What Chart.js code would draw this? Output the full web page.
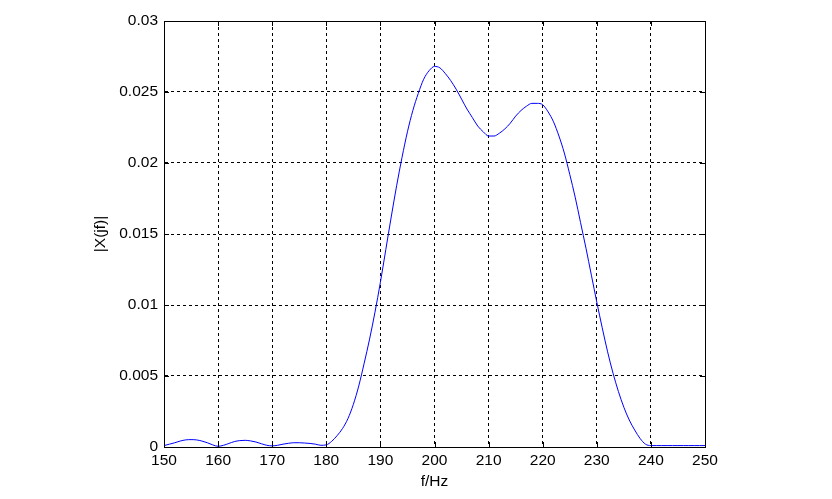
<!DOCTYPE html>
<html>
<head>
<meta charset="utf-8">
<script src="https://cdn.jsdelivr.net/npm/chart.js@4.4.1/dist/chart.umd.min.js"></script>
<style>
html,body{margin:0;padding:0;background:#fff;}
#wrap{width:832px;height:499px;}
</style>
</head>
<body>
<div id="wrap"><canvas id="c" width="832" height="499"></canvas></div>
<script>
const freqs = [150,151,152,153,154,155,156,157,158,159,160,161,162,163,164,165,166,167,168,169,170,171,172,173,174,175,176,177,178,179,180,181,182,183,184,185,186,187,188,189,190,191,192,193,194,195,196,197,198,199,200,201,202,203,204,205,206,207,208,209,210,211,212,213,214,215,216,217,218,219,220,221,222,223,224,225,226,227,228,229,230,231,232,233,234,235,236,237,238,239,240,241,242,243,244,245,246,247,248,249,250];
const magnitudes = [0.0001,0.0002,0.0003,0.00042,0.0005,0.00052,0.0005,0.00042,0.0003,0.00015,0.00005,0.00012,0.00025,0.00038,0.00045,0.00047,0.00043,0.00035,0.00023,0.00012,0.00008,0.00012,0.0002,0.00026,0.0003,0.0003,0.00028,0.00025,0.0002,0.00012,0.00015,0.0004,0.0008,0.0013,0.0020,0.0030,0.0043,0.0059,0.0076,0.0095,0.0116,0.0139,0.0162,0.0184,0.0204,0.0222,0.0237,0.0249,0.0259,0.0265,0.0268,0.0267,0.0263,0.0258,0.0252,0.0245,0.0238,0.0232,0.0226,0.0222,0.0219,0.0219,0.0221,0.0224,0.0228,0.0233,0.0237,0.0240,0.0242,0.0242,0.0241,0.0236,0.0229,0.0219,0.0207,0.0192,0.0176,0.0158,0.0140,0.0121,0.0102,0.0084,0.0067,0.0052,0.0039,0.0028,0.0019,0.0012,0.0006,0.0002,0.0001,0.0001,0.0001,0.0001,0.0001,0.0001,0.0001,0.0001,0.0001,0.0001,0.0001];
const xTicks = [150,160,170,180,190,200,210,220,230,240,250];
const yTicks = [0,0.005,0.01,0.015,0.02,0.025,0.03];
const xLabel = 'f/Hz';
const yLabel = '|X(jf)|';

const points = freqs.map((f,i)=>({x:f,y:magnitudes[i]}));
const FONT = {family:'"Liberation Sans", Arial, sans-serif', size:15.5};

const framePlugin = {
  id:'frame',
  afterDraw(chart){
    const {ctx, chartArea:a, scales:{x,y}} = chart;
    ctx.save();
    ctx.strokeStyle='#000';
    ctx.lineWidth=1;
    ctx.setLineDash([]);
    ctx.beginPath();
    xTicks.forEach(v=>{
      const px=Math.round(x.getPixelForValue(v))+0.5;
      ctx.moveTo(px,a.bottom); ctx.lineTo(px,a.bottom-5);
      ctx.moveTo(px,a.top); ctx.lineTo(px,a.top+5);
    });
    yTicks.forEach(v=>{
      const py=Math.round(y.getPixelForValue(v))+0.5;
      ctx.moveTo(a.left,py); ctx.lineTo(a.left+5,py);
      ctx.moveTo(a.right,py); ctx.lineTo(a.right-5,py);
    });
    ctx.stroke();
    ctx.strokeRect(Math.round(a.left)+0.5, Math.round(a.top)+0.5, Math.round(a.right-a.left), Math.round(a.bottom-a.top));
    ctx.restore();
  }
};
const bgPlugin = {
  id:'bg',
  beforeDraw(chart){
    const ctx=chart.ctx; ctx.save(); ctx.fillStyle='#fff'; ctx.fillRect(0,0,chart.width,chart.height); ctx.restore();
  }
};

new Chart(document.getElementById('c'), {
  type:'line',
  data:{datasets:[{data:points, borderColor:'#0000ff', borderWidth:1, pointRadius:0, fill:false, cubicInterpolationMode:'monotone'}]},
  options:{
    responsive:false,
    animation:false,
    events:[],
    layout:{padding:{left:0, top:21, right:127, bottom:0}},
    plugins:{legend:{display:false}, tooltip:{enabled:false}},
    scales:{
      x:{
        type:'linear', min:150, max:250,
        afterBuildTicks(s){ s.ticks = xTicks.map(v=>({value:v})); },
        afterFit(s){ s.height = 52; },
        ticks:{color:'#000', font:FONT, padding:4, maxRotation:0, autoSkip:false},
        grid:{color:'#000', lineWidth:1, drawTicks:false},
        border:{display:true, color:'#000', dash:[3,3], width:1},
        title:{display:true, text:xLabel, color:'#000', font:FONT, padding:{top:0,bottom:8}}
      },
      y:{
        type:'linear', min:0, max:0.03,
        afterBuildTicks(s){ s.ticks = yTicks.map(v=>({value:v})); },
        afterFit(s){ s.width = 164; },
        ticks:{color:'#000', font:FONT, padding:6, callback:v=>String(parseFloat(v.toFixed(4)))},
        grid:{color:'#000', lineWidth:1, drawTicks:false},
        border:{display:true, color:'#000', dash:[3,3], width:1},
        title:{display:true, text:yLabel, color:'#000', font:FONT, padding:{top:91,bottom:0}}
      }
    }
  },
  plugins:[bgPlugin, framePlugin]
});
</script>
</body>
</html>
